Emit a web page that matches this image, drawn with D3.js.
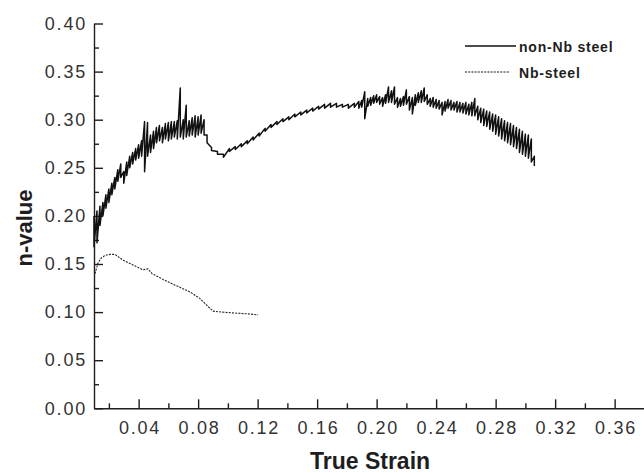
<!DOCTYPE html>
<html>
<head>
<meta charset="utf-8">
<script src="https://cdn.jsdelivr.net/npm/d3@7/dist/d3.min.js"></script>
<style>
  html, body { margin: 0; padding: 0; background: #fff; }
  svg { display: block; }
  .axis path, .axis line { stroke: #1e1e1e; stroke-width: 1.4; }
  .axis text { fill: #333; font-family: "Liberation Sans", Arial, sans-serif; font-size: 18px; letter-spacing: 1.8px; }
  .title { fill: #1e1e1e; font-family: "Liberation Sans", Arial, sans-serif; font-weight: bold; }
  .legend text { fill: #1e1e1e; font-family: "Liberation Sans", Arial, sans-serif; font-weight: bold; font-size: 14px; letter-spacing: 0.8px; }
</style>
</head>
<body>
<svg id="chart" width="644" height="475"></svg>
<script>
// ticks
const xTicks = [0.04, 0.08, 0.12, 0.16, 0.20, 0.24, 0.28, 0.32, 0.36]
const xMinor = [0.02, 0.06, 0.10, 0.14, 0.18, 0.22, 0.26, 0.30, 0.34]
const yTicks = [0, 0.05, 0.10, 0.15, 0.20, 0.25, 0.30, 0.35, 0.40]
const yMinor = [0.025, 0.075, 0.125, 0.175, 0.225, 0.275, 0.325, 0.375]

// non-Nb steel: noisy trace, top and bottom of the scatter at each strain
const nonNbStrain = [
  0.010, 0.012, 0.014, 0.016, 0.018, 0.020, 0.022, 0.024, 0.026, 0.028,
  0.030, 0.032, 0.034, 0.036, 0.038, 0.040, 0.042, 0.044, 0.046, 0.048,
  0.050, 0.052, 0.054, 0.056, 0.058, 0.060, 0.062, 0.064, 0.066, 0.068,
  0.070, 0.072, 0.074, 0.076, 0.078, 0.080, 0.082, 0.084, 0.086,
  0.089, 0.093, 0.097, 0.101, 0.105, 0.109, 0.113, 0.117, 0.121, 0.125,
  0.129, 0.133, 0.137, 0.141, 0.145, 0.149, 0.153, 0.157, 0.161, 0.165,
  0.169, 0.173, 0.177, 0.181, 0.185,
  0.188, 0.190, 0.192, 0.194, 0.196, 0.198, 0.200, 0.202, 0.204, 0.206,
  0.208, 0.210, 0.212, 0.214, 0.216, 0.218, 0.220, 0.222, 0.224, 0.226,
  0.228, 0.230, 0.232, 0.234, 0.236, 0.238, 0.240, 0.242, 0.244, 0.246,
  0.248, 0.250, 0.252, 0.254, 0.256, 0.258, 0.260, 0.262, 0.264, 0.266,
  0.268, 0.270, 0.272, 0.274, 0.276, 0.278, 0.280, 0.282, 0.284, 0.286,
  0.288, 0.290, 0.292, 0.294, 0.296, 0.298, 0.300, 0.302, 0.304, 0.306
]
const nonNbHigh = [
  0.200, 0.205, 0.210, 0.214, 0.222, 0.228, 0.234, 0.240, 0.248, 0.254,
  0.246, 0.256, 0.262, 0.266, 0.270, 0.274, 0.278, 0.298, 0.297, 0.284,
  0.288, 0.292, 0.294, 0.292, 0.296, 0.297, 0.298, 0.298, 0.299, 0.333,
  0.300, 0.315, 0.299, 0.302, 0.304, 0.303, 0.305, 0.300, 0.284,
  0.271, 0.267, 0.264, 0.270, 0.272, 0.275, 0.278, 0.282, 0.286, 0.291,
  0.295, 0.298, 0.301, 0.303, 0.306, 0.308, 0.310, 0.312, 0.314, 0.316,
  0.317, 0.317, 0.316, 0.316, 0.317,
  0.319, 0.320, 0.329, 0.322, 0.323, 0.325, 0.326, 0.324, 0.323, 0.326,
  0.334, 0.330, 0.334, 0.323, 0.322, 0.324, 0.331, 0.324, 0.323, 0.326,
  0.328, 0.330, 0.333, 0.326, 0.322, 0.323, 0.321, 0.320, 0.318, 0.319,
  0.321, 0.320, 0.318, 0.319, 0.318, 0.317, 0.318, 0.316, 0.318, 0.322,
  0.314, 0.312, 0.311, 0.309, 0.308, 0.306, 0.305, 0.303, 0.301, 0.299,
  0.297, 0.296, 0.294, 0.292, 0.290, 0.288, 0.285, 0.284, 0.280, 0.262
]
const nonNbLow = [
  0.168, 0.172, 0.190, 0.200, 0.208, 0.214, 0.222, 0.228, 0.236, 0.240,
  0.234, 0.242, 0.250, 0.254, 0.258, 0.260, 0.262, 0.246, 0.262, 0.266,
  0.270, 0.276, 0.278, 0.276, 0.280, 0.278, 0.280, 0.282, 0.280, 0.282,
  0.280, 0.282, 0.283, 0.284, 0.282, 0.284, 0.286, 0.284, 0.276,
  0.268, 0.264, 0.261, 0.267, 0.269, 0.272, 0.275, 0.279, 0.283, 0.288,
  0.292, 0.295, 0.298, 0.300, 0.303, 0.305, 0.307, 0.309, 0.311, 0.312,
  0.313, 0.313, 0.313, 0.312, 0.313,
  0.312, 0.313, 0.301, 0.314, 0.315, 0.317, 0.318, 0.316, 0.314, 0.317,
  0.318, 0.318, 0.316, 0.313, 0.314, 0.315, 0.316, 0.310, 0.306, 0.315,
  0.318, 0.318, 0.319, 0.316, 0.314, 0.313, 0.312, 0.311, 0.305, 0.309,
  0.312, 0.310, 0.310, 0.308, 0.308, 0.307, 0.306, 0.305, 0.304, 0.304,
  0.300, 0.297, 0.294, 0.293, 0.290, 0.288, 0.285, 0.283, 0.280, 0.278,
  0.276, 0.274, 0.272, 0.270, 0.266, 0.264, 0.262, 0.260, 0.256, 0.252
]

// Nb-steel
const nbStrain = [0.0107, 0.0127, 0.0147, 0.0174, 0.0208, 0.0241, 0.0295, 0.0362, 0.0429, 0.0463,
  0.0490, 0.0564, 0.0645, 0.0745, 0.0813, 0.0866, 0.0900, 0.0960, 0.1048, 0.1149, 0.1203]
const nbValue = [0.140, 0.151, 0.156, 0.159, 0.160, 0.160, 0.154, 0.149, 0.144, 0.145,
  0.140, 0.134, 0.128, 0.121, 0.114, 0.106, 0.101, 0.100, 0.099, 0.098, 0.097]

const legendItems = [
  { label: 'non-Nb steel', dash: null },
  { label: 'Nb-steel', dash: '2,1.2' }
]

const svg = d3.select('#chart')

const x = d3.scaleLinear().domain([0.01, 0.38]).range([94, 644.4])
const y = d3.scaleLinear().domain([0, 0.40]).range([408.3, 23.5])

// minor ticks first so the axis line sits on top
svg.append('g')
  .attr('class', 'axis')
  .attr('transform', 'translate(0,408.3)')
  .call(d3.axisBottom(x).tickValues(xMinor).tickSize(-5).tickSizeOuter(0).tickFormat(''))
  .call(g => g.select('.domain').remove())

svg.append('g')
  .attr('class', 'axis')
  .attr('transform', 'translate(94,0)')
  .call(d3.axisLeft(y).tickValues(yMinor).tickSize(-5).tickSizeOuter(0).tickFormat(''))
  .call(g => g.select('.domain').remove())

svg.append('g')
  .attr('class', 'axis')
  .attr('transform', 'translate(0,408.3)')
  .call(d3.axisBottom(x).tickValues(xTicks).tickSize(-9).tickSizeOuter(0).tickPadding(13).tickFormat(d3.format('.2f')))
  .call(g => g.selectAll('text').attr('dx', '0.9px'))

svg.append('g')
  .attr('class', 'axis')
  .attr('transform', 'translate(94,0)')
  .call(d3.axisLeft(y).tickValues(yTicks).tickSize(-9).tickSizeOuter(0).tickPadding(7).tickFormat(d3.format('.2f')))

// non-Nb steel trace: top -> bottom at each strain
const trace = []
nonNbStrain.forEach((s, i) => {
  trace.push([s, nonNbHigh[i]])
  trace.push([s, nonNbLow[i]])
})

svg.append('path')
  .datum(trace)
  .attr('fill', 'none')
  .attr('stroke', '#111')
  .attr('stroke-width', 1.5)
  .attr('stroke-linejoin', 'round')
  .attr('d', d3.line().x(d => x(d[0])).y(d => y(d[1])))

svg.append('path')
  .datum(d3.zip(nbStrain, nbValue))
  .attr('fill', 'none')
  .attr('stroke', '#222')
  .attr('stroke-width', 1.1)
  .attr('stroke-dasharray', '2,1.2')
  .attr('d', d3.line().x(d => x(d[0])).y(d => y(d[1])))

// axis titles
svg.append('text')
  .attr('class', 'title')
  .attr('transform', 'translate(32,228) rotate(-90)')
  .attr('text-anchor', 'middle')
  .attr('font-size', 22)
  .text('n-value')

svg.append('text')
  .attr('class', 'title')
  .attr('x', 370)
  .attr('y', 469)
  .attr('text-anchor', 'middle')
  .attr('font-size', 23)
  .text('True Strain')

// legend
const legend = svg.append('g').attr('class', 'legend')
const item = legend.selectAll('g')
  .data(legendItems)
  .enter().append('g')
  .attr('transform', (d, i) => `translate(465,${46 + i * 26})`)

item.append('line')
  .attr('x1', 0).attr('x2', (d, i) => i === 0 ? 51 : 45)
  .attr('y1', 0).attr('y2', 0)
  .attr('stroke', '#111')
  .attr('stroke-width', (d, i) => i === 0 ? 1.3 : 1)
  .attr('stroke-dasharray', d => d.dash)

item.append('text')
  .attr('x', 54)
  .attr('y', 5.5)
  .text(d => d.label)
</script>
</body>
</html>
